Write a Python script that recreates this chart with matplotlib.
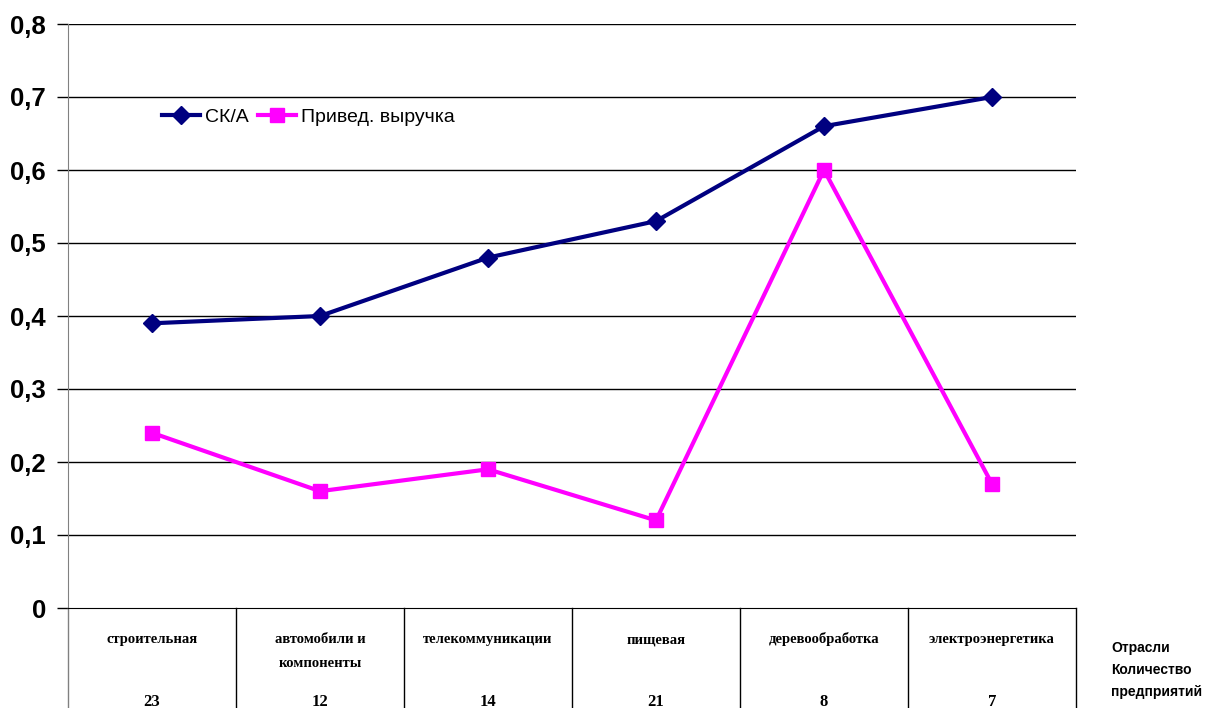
import matplotlib
matplotlib.use("Agg")
import matplotlib.pyplot as plt
from matplotlib.transforms import blended_transform_factory

industries = ["строительная", "автомобили и\nкомпоненты", "телекоммуникации",
              "пищевая", "деревообработка", "электроэнергетика"]
firm_counts = ["23", "12", "14", "21", "8", "7"]
ck_a = [0.39, 0.40, 0.48, 0.53, 0.66, 0.70]
revenue = [0.24, 0.16, 0.19, 0.12, 0.60, 0.17]
y_ticks = [0, 0.1, 0.2, 0.3, 0.4, 0.5, 0.6, 0.7, 0.8]
y_labels = ["0", "0,1", "0,2", "0,3", "0,4", "0,5", "0,6", "0,7", "0,8"]

fig = plt.figure(figsize=(12.07, 7.08), dpi=100)
W, H = 1207, 708
ax = fig.add_axes([68 / W, 1 - 608 / H, (1076 - 68) / W, (608 - 24) / H])

x = list(range(len(industries)))
ax.set_xlim(-0.5, len(industries) - 0.5)
ax.set_ylim(0, 0.8)

for yv in y_ticks[1:]:
    ax.axhline(yv, color="black", lw=1, zorder=1)

ax.plot(x, ck_a, color="#000080", lw=3, marker="D", markersize=9,
        label="СК/А", zorder=3)
ax.plot(x, revenue, color="#FF00FF", lw=3, marker="s", markersize=10,
        label="Привед. выручка", zorder=3)

ax.set_yticks(y_ticks)
ax.set_yticklabels(y_labels, fontfamily="Liberation Sans", fontweight="bold",
                   fontsize=18.5)
ax.tick_params(axis="y", length=8, width=1, color="black", pad=8)
ax.set_xticks([])

for s in ["top", "right"]:
    ax.spines[s].set_visible(False)
ax.spines["left"].set_color("#808080")
ax.spines["bottom"].set_color("black")

leg = ax.legend(loc="center left", bbox_to_anchor=(158 / W, 1 - 117 / H),
                bbox_transform=fig.transFigure, ncol=2,
                frameon=False, borderaxespad=0,
                prop={"family": "Liberation Sans", "size": 14},
                handlelength=1.95, handletextpad=0.25, columnspacing=0.5,
                borderpad=0.2)
leg.set_zorder(4)

# table beneath the axis: category names and firm counts
trans = blended_transform_factory(ax.transData, ax.transAxes)
below = -100 / 584
for i in range(len(industries) + 1):
    xb = i - 0.5
    col = "#808080" if i == 0 else "black"
    ax.plot([xb, xb], [0, below], transform=trans, color=col, lw=1,
            clip_on=False)

for i, (name, cnt) in enumerate(zip(industries, firm_counts)):
    lines = name.split("\n")
    for k, line in enumerate(lines):
        ax.text(i, -(35 + 24 * k) / 584, line, transform=trans, ha="center",
                va="baseline", fontfamily="Liberation Serif",
                fontweight="bold", fontsize=10.5)
    ax.text(i, -98 / 584, cnt, transform=trans, ha="center", va="baseline",
            fontfamily="Liberation Serif", fontweight="bold", fontsize=12)

for label, yy in [("Отрасли", 648), ("Количество", 670), ("предприятий", 692)]:
    fig.text(1111 / W, 1 - yy / H, label, ha="left", va="center",
             fontfamily="Liberation Sans", fontweight="bold", fontsize=10)

fig.savefig("out.png", dpi=100)
